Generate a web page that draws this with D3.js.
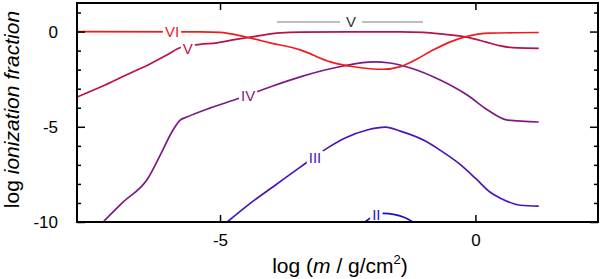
<!DOCTYPE html>
<html>
<head>
<meta charset="utf-8">
<script src="https://cdn.jsdelivr.net/npm/d3@7"></script>
<style>
  body { margin: 0; background: #fff; }
  text { font-family: "Liberation Sans", Arial, Helvetica, sans-serif; }
</style>
</head>
<body>
<div id="chart"></div>
<script>
// ionization fractions (log) vs log column mass
var logM_II = [-2.16, -2.0, -1.8, -1.6, -1.4, -1.22];
var frac_II = [-10, -9.7, -9.55, -9.6, -9.75, -10];

var logM_III = [-4.86, -4.41, -3.92, -3.43, -2.9, -2.55, -2.12, -1.76, -1.47, -0.98, -0.69, -0.33, 0, 0.29, 0.49, 0.88, 1.24];
var frac_III = [-10, -9.02, -8.07, -7.12, -6.12, -5.59, -5.17, -5.02, -5.23, -5.75, -6.23, -6.91, -7.7, -8.44, -8.75, -9.12, -9.17];

var logM_IV = [-7.29, -6.9, -6.41, -6.18, -5.92, -5.78, -5.65, -5.2, -4.61, -4.02, -3.43, -2.59, -2.0, -1.67, -1.27, -0.69, -0.16, 0.24, 0.63, 1.24];
var frac_IV = [-10, -8.96, -7.7, -6.54, -5.17, -4.65, -4.49, -4.02, -3.49, -2.91, -2.38, -1.81, -1.59, -1.65, -1.91, -2.54, -3.33, -4.12, -4.65, -4.75];

var logM_V = [-7.8, -7.25, -6.71, -6.37, -6.04, -5.75, -5.39, -5.06, -4.75, -4.31, -3.82, -3.43, -2.45, -1.47, -1.02, -0.59, -0.2, 0.2, 0.49, 0.82, 1.24];
var frac_V = [-3.44, -2.81, -2.12, -1.7, -1.23, -0.81, -0.67, -0.59, -0.44, -0.25, -0.07, -0.03, -0.02, -0.02, -0.04, -0.15, -0.28, -0.54, -0.75, -0.86, -0.88];

var logM_VI = [-7.8, -5.39, -5, -4.51, -4.02, -3.43, -2.84, -2.35, -1.82, -1.47, -1.18, -0.82, -0.49, -0.2, 0.29, 1.24];
var frac_VI = [0, -0.02, -0.04, -0.28, -0.59, -0.96, -1.59, -1.86, -1.98, -1.84, -1.49, -0.96, -0.54, -0.28, -0.08, -0.05];

var ionNames = ["II", "III", "IV", "V", "VI"];
var ionColors = ["#1a12c4", "#4a16b8", "#7c1a86", "#b8124a", "#f01c1c"];
var labelLogM = [-1.94, -3.14, -4.45, -5.63, -5.94];
var labelFrac = [-9.6, -6.6, -3.35, -0.9, 0];

var xTicks = [-5, 0];
var yTicks = [0, -5, -10];
var yMinorTicks = [1, -1, -2, -3, -4, -6, -7, -8, -9];

var svgWidth = 600;
var svgHeight = 279;
var margin = { top: 3, right: 2, bottom: 57, left: 77 };
var width = svgWidth - margin.left - margin.right;
var height = svgHeight - margin.top - margin.bottom;

var svg = d3.select("#chart")
  .append("svg")
  .attr("width", svgWidth)
  .attr("height", svgHeight);

var chartGroup = svg.append("g")
  .attr("transform", `translate(${margin.left}, ${margin.top})`);

var xScale = d3.scaleLinear().domain([-7.8, 2.4]).range([0, width]);
var yScale = d3.scaleLinear().domain([-10, 1.5]).range([height, 0]);

chartGroup.append("clipPath").attr("id", "clip")
  .append("rect").attr("width", width).attr("height", height);

var series = [
  { x: logM_II, y: frac_II },
  { x: logM_III, y: frac_III },
  { x: logM_IV, y: frac_IV },
  { x: logM_V, y: frac_V },
  { x: logM_VI, y: frac_VI }
];

var line = d3.line()
  .x(d => xScale(d[0]))
  .y(d => yScale(d[1]))
  .curve(d3.curveMonotoneX);

var linesGroup = chartGroup.append("g").attr("clip-path", "url(#clip)");
series.forEach((s, i) => {
  linesGroup.append("path")
    .datum(d3.zip(s.x, s.y))
    .attr("fill", "none")
    .attr("stroke", ionColors[i])
    .attr("stroke-width", 1.7)
    .attr("d", line);
});

// inline labels with white knock-out box
ionNames.forEach((name, i) => {
  var g = chartGroup.append("g")
    .attr("transform", `translate(${xScale(labelLogM[i])}, ${yScale(labelFrac[i])})`);
  var t = g.append("text")
    .attr("text-anchor", "middle")
    .attr("dy", "0.36em")
    .attr("font-size", 15)
    .attr("fill", ionColors[i])
    .text(name);
  var bb = t.node().getBBox();
  g.insert("rect", "text")
    .attr("x", bb.x - 2).attr("y", bb.y + 2)
    .attr("width", bb.width + 4).attr("height", bb.height - 4)
    .attr("fill", "#fff");
});

// grey key sample
var key = chartGroup.append("g").attr("transform", "translate(0, 19)");
key.append("line").attr("x1", 200).attr("x2", 263).attr("stroke", "#a8a8a8").attr("stroke-width", 1.6);
key.append("line").attr("x1", 285).attr("x2", 346).attr("stroke", "#a8a8a8").attr("stroke-width", 1.6);
key.append("text").attr("x", 274).attr("dy", "0.36em").attr("text-anchor", "middle")
  .attr("font-size", 15).attr("fill", "#333").text("V");

// axes
var fmt = d => String(d);

chartGroup.append("g")
  .attr("class", "axis")
  .call(d3.axisLeft(yScale).tickValues(yTicks).tickSizeInner(-8).tickSizeOuter(0).tickPadding(19).tickFormat(fmt));
chartGroup.append("g")
  .attr("class", "axis")
  .call(d3.axisLeft(yScale).tickValues(yMinorTicks).tickSizeInner(-4).tickSizeOuter(0).tickFormat(""));
chartGroup.append("g")
  .attr("class", "axis")
  .attr("transform", `translate(${width}, 0)`)
  .call(d3.axisRight(yScale).tickValues(yTicks).tickSizeInner(-8).tickSizeOuter(0).tickFormat(""));
chartGroup.append("g")
  .attr("class", "axis")
  .attr("transform", `translate(${width}, 0)`)
  .call(d3.axisRight(yScale).tickValues(yMinorTicks).tickSizeInner(-4).tickSizeOuter(0).tickFormat(""));
chartGroup.append("g")
  .attr("class", "axis")
  .attr("transform", `translate(0, ${height})`)
  .call(d3.axisBottom(xScale).tickValues(xTicks).tickSizeInner(-7).tickSizeOuter(0).tickPadding(12).tickFormat(fmt));
chartGroup.append("g")
  .attr("class", "axis")
  .call(d3.axisTop(xScale).tickValues(xTicks).tickSizeInner(-7).tickSizeOuter(0).tickFormat(""));

chartGroup.selectAll(".axis .domain").remove();
chartGroup.selectAll(".axis line").attr("stroke", "#000").attr("stroke-width", 1.5);
chartGroup.selectAll(".axis text")
  .attr("font-family", "'Liberation Sans', Arial, sans-serif")
  .attr("font-size", 17)
  .attr("fill", "#000");

chartGroup.append("rect")
  .attr("width", width).attr("height", height)
  .attr("fill", "none").attr("stroke", "#000").attr("stroke-width", 2);

// axis titles
var yTitle = svg.append("text")
  .attr("transform", `translate(19, ${margin.top + height / 2 - 3}) rotate(-90)`)
  .attr("text-anchor", "middle")
  .attr("font-size", 21);
yTitle.append("tspan").text("log ");
yTitle.append("tspan").attr("font-style", "italic").text("ionization fraction");

var xTitle = svg.append("text")
  .attr("x", 340).attr("y", 273)
  .attr("text-anchor", "middle")
  .attr("font-size", 21);
xTitle.append("tspan").text("log (");
xTitle.append("tspan").attr("font-style", "italic").text("m");
xTitle.append("tspan").text(" / g/cm");
xTitle.append("tspan").attr("font-size", 13).attr("dy", -9).text("2");
xTitle.append("tspan").attr("dy", 9).text(")");
</script>
</body>
</html>
